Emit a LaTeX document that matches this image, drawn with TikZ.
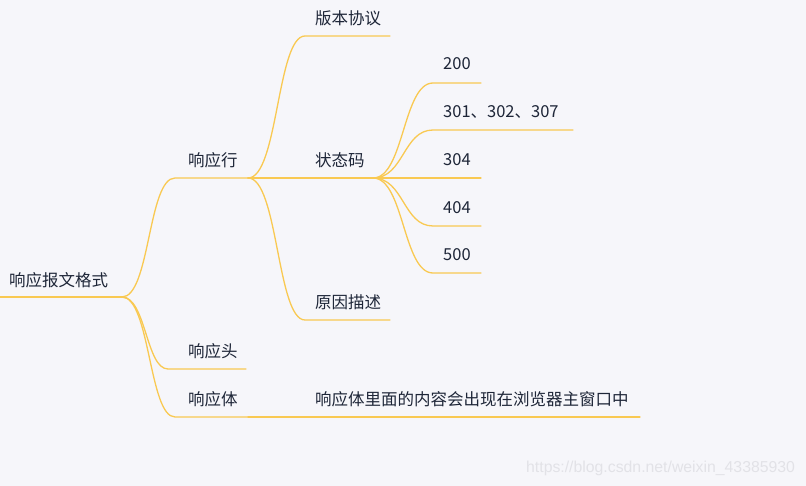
\documentclass[tikz,border=0pt]{standalone}
\usepackage{fontspec}
\newfontfamily\cjk{Noto Sans CJK SC}
\newfontfamily\wmfont{Liberation Sans}
\definecolor{bgc}{RGB}{246,246,250}
\definecolor{lnc}{RGB}{249,201,82}
\definecolor{txc}{RGB}{30,38,56}
\definecolor{wmc}{RGB}{226,226,231}
\begin{document}
\begin{tikzpicture}[x=1pt,y=-1pt,
  lbl/.style={anchor=west,text=txc,inner sep=0pt,font=\cjk\fontsize{16.5}{18}\selectfont},
  br/.style={draw=lnc,line width=1.3pt,line cap=round}]
\fill[bgc] (0,0) rectangle (806,486);
\useasboundingbox (0,0) rectangle (806,486);
% root
\node[lbl] (root) at (9,280) {响应报文格式};
\coordinate (r0) at (0,297);
\coordinate (r1) at (122,297);
\draw[br] (r0) -- (r1);
% level 1
\node[lbl] (hl) at (188,160) {响应行};
\coordinate (a0) at (175,178); \coordinate (a1) at (248,178);
\node[lbl] (hh) at (188,351) {响应头};
\coordinate (h0) at (168,369); \coordinate (h1) at (246,369);
\node[lbl] (hb) at (188,399) {响应体};
\coordinate (t0) at (175,417); \coordinate (t1) at (248,417);
\draw[br] (r1) .. controls (150,297) and (148,178) .. (a0) -- (a1);
\draw[br] (r1) .. controls (146,297) and (146,369) .. (h0) -- (h1);
\draw[br] (r1) .. controls (150,297) and (149,417) .. (t0) -- (t1);
% level 2 of 响应行
\node[lbl] (ver) at (315,18) {版本协议};
\coordinate (b0) at (305,36); \coordinate (b1) at (390,36);
\node[lbl] (sc) at (315,160) {状态码};
\coordinate (c1) at (373,178);
\node[lbl] (rs) at (315,302) {原因描述};
\coordinate (d0) at (305,320); \coordinate (d1) at (390,320);
\draw[br] (a1) .. controls (278,178) and (277,36) .. (b0) -- (b1);
\draw[br] (a1) -- (c1);
\draw[br] (a1) .. controls (278,178) and (277,320) .. (d0) -- (d1);
% body child
\node[lbl] (bc) at (315,399) {响应体里面的内容会出现在浏览器主窗口中};
\coordinate (bc1) at (640,417);
\draw[br] (t1) -- (bc1);
% level 3 status codes
\node[lbl] (s200) at (443,64) {200};
\coordinate (e0) at (433,83); \coordinate (e1) at (481,83);
\node[lbl] (s301) at (443,112) {301、302、307};
\coordinate (f0) at (433,130); \coordinate (f1) at (573,130);
\node[lbl] (s304) at (443,160) {304};
\coordinate (g1) at (481,178);
\node[lbl] (s404) at (443,208) {404};
\coordinate (k0) at (433,226); \coordinate (k1) at (481,226);
\node[lbl] (s500) at (443,255) {500};
\coordinate (m0) at (433,273); \coordinate (m1) at (481,273);
\draw[br] (c1) .. controls (404,178) and (403,83) .. (e0) -- (e1);
\draw[br] (c1) .. controls (404,178) and (403,130) .. (f0) -- (f1);
\draw[br] (c1) -- (g1);
\draw[br] (c1) .. controls (404,178) and (403,226) .. (k0) -- (k1);
\draw[br] (c1) .. controls (404,178) and (403,273) .. (m0) -- (m1);
% watermark
\node[anchor=west,inner sep=0pt,text=wmc,font=\wmfont\fontsize{15.8}{17}\selectfont] (wm) at (526,468) {https://blog.csdn.net/weixin\_43385930};
\end{tikzpicture}
\end{document}
